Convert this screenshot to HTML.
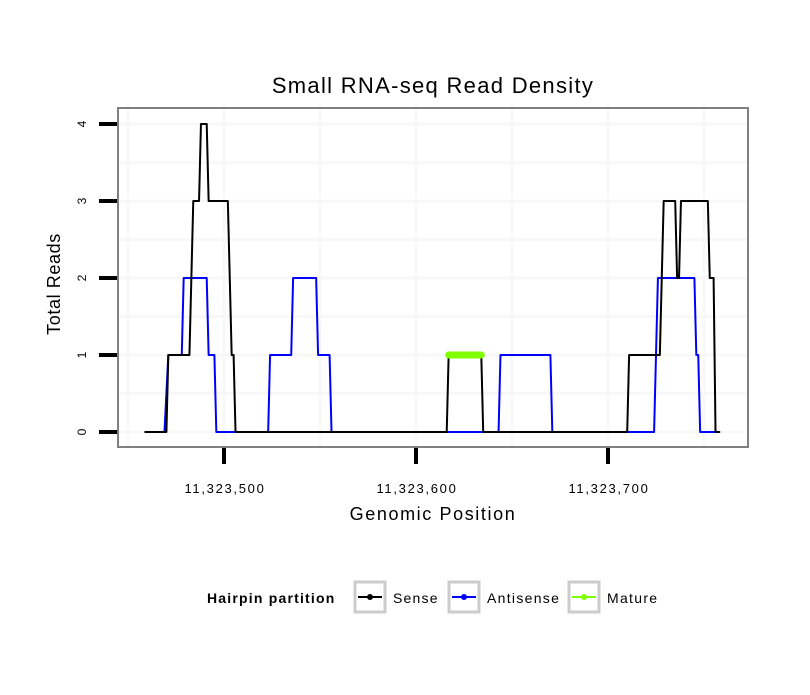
<!DOCTYPE html>
<html><head><meta charset="utf-8"><style>
body{margin:0;background:#fff;}
svg text{font-family:"Liberation Sans",sans-serif;}
</style></head><body>
<svg id="chart" width="810" height="690" xmlns="http://www.w3.org/2000/svg">
<rect width="810" height="690" fill="#fff"/>
<text x="433" y="93" font-size="22" letter-spacing="1.3" text-anchor="middle">Small RNA-seq Read Density</text>
<rect x="118" y="108" width="630" height="339" fill="#fff"/>
<g id="grid"></g>
<g id="series"></g>
<rect x="118" y="108" width="630" height="339" fill="none" stroke="#808080" stroke-width="2"/>
<g id="axes"></g>
<text x="433" y="520" font-size="18" letter-spacing="1.6" text-anchor="middle">Genomic Position</text>
<text transform="translate(60,284) rotate(-90)" font-size="18" letter-spacing="0.6" text-anchor="middle">Total Reads</text>
<g>
<text x="207" y="603" font-size="14" letter-spacing="1.2" font-weight="bold">Hairpin partition</text>
<g>
<rect x="355" y="582" width="30" height="30" fill="#fff" stroke="#cccccc" stroke-width="3"/>
<line x1="358" y1="597" x2="382" y2="597" stroke="#000" stroke-width="2"/><circle cx="370" cy="597" r="3" fill="#000"/>
<text x="393" y="603" font-size="14" letter-spacing="1.2">Sense</text></g>
<g>
<rect x="449" y="582" width="30" height="30" fill="#fff" stroke="#cccccc" stroke-width="3"/>
<line x1="452" y1="597" x2="476" y2="597" stroke="#0000ff" stroke-width="2"/><circle cx="464" cy="597" r="3" fill="#0000ff"/>
<text x="487" y="603" font-size="14" letter-spacing="1.3">Antisense</text></g>
<g>
<rect x="569" y="582" width="30" height="30" fill="#fff" stroke="#cccccc" stroke-width="3"/>
<line x1="572" y1="597" x2="596" y2="597" stroke="#7fff00" stroke-width="2"/><circle cx="584" cy="597" r="3" fill="#7fff00"/>
<text x="607" y="603" font-size="14" letter-spacing="1.3">Mature</text></g>
</g>
</svg>
<script>
const xTicks = [11323500, 11323600, 11323700];
const xTickLabels = ["11,323,500", "11,323,600", "11,323,700"];
const yTicks = [0, 1, 2, 3, 4];
const senseX = [11323459,11323470,11323471,11323482,11323484,11323487,11323488,11323491,11323492,11323502,11323504,11323505,11323506,11323616,11323617,11323634,11323635,11323710,11323711,11323727,11323729,11323735,11323736,11323737,11323738,11323752,11323753,11323755,11323756,11323758];
const senseY = [0,0,1,1,3,3,4,4,3,3,1,1,0,0,1,1,0,0,1,1,3,3,2,2,3,3,2,2,0,0];
const antiX = [11323459,11323469,11323471,11323478,11323479,11323491,11323492,11323495,11323496,11323523,11323524,11323535,11323536,11323548,11323549,11323555,11323556,11323643,11323644,11323670,11323671,11323724,11323726,11323745,11323746,11323747,11323748,11323756];
const antiY = [0,0,1,1,2,2,1,1,0,0,1,1,2,2,1,1,0,0,1,1,0,0,2,2,1,1,0,0];
const matureX = [11323617, 11323634];
const matureY = [1, 1];

const NS="http://www.w3.org/2000/svg";
const xs = v => 224 + (v - 11323500) * 1.92;
const ys = v => 432 - v * 77;
function mk(tag, attrs, parent){const e=document.createElementNS(NS,tag);for(const k in attrs)e.setAttribute(k,attrs[k]);parent.appendChild(e);return e;}
const grid=document.getElementById('grid'), axes=document.getElementById('axes'), series=document.getElementById('series');
for(let v=-0.5; v<=4.5; v+=0.5){const y=ys(v); if(y<109||y>446) continue;
  const l=mk('line',{x1:119,x2:747,y1:y,y2:y,stroke:'#f8f8f8','stroke-width':3},grid);
  
  }
for(let v=11323450; v<=11323760; v+=50){const x=xs(v); if(x<119||x>747) continue;
  const l=mk('line',{x1:x,x2:x,y1:109,y2:446,stroke:'#f8f8f8','stroke-width':3},grid);
  
  }
yTicks.forEach(v=>{const y=ys(v);
  const t=mk('line',{x1:99,x2:117,y1:y,y2:y,stroke:'#000','stroke-width':4},axes);
  
  
  const tx=mk('text',{transform:`translate(86,${y}) rotate(-90)`,'font-size':12,'text-anchor':'middle'},axes);
  tx.textContent=v;
  
  });
xTicks.forEach((v,i)=>{const x=xs(v);
  const t=mk('line',{x1:x,x2:x,y1:448,y2:464,stroke:'#000','stroke-width':4},axes);
  
  
  const tx=mk('text',{x:x+1,y:493,'font-size':13,'letter-spacing':1.7,'text-anchor':'middle'},axes);
  tx.textContent=xTickLabels[i];
  
  });
function line(X,Y,color,w,name){
  const p=mk('polyline',{points:X.map((x,i)=>xs(x)+','+ys(Y[i])).join(' '),fill:'none',stroke:color,'stroke-width':w,'stroke-linecap':'round','stroke-linejoin':'round'},series);
  
  }
line(antiX,antiY,'#0000ff',2,'antisense-line');
line(senseX,senseY,'#000000',2,'sense-line');
line(matureX,matureY,'#7fff00',7,'mature-line');
</script>
</body></html>
